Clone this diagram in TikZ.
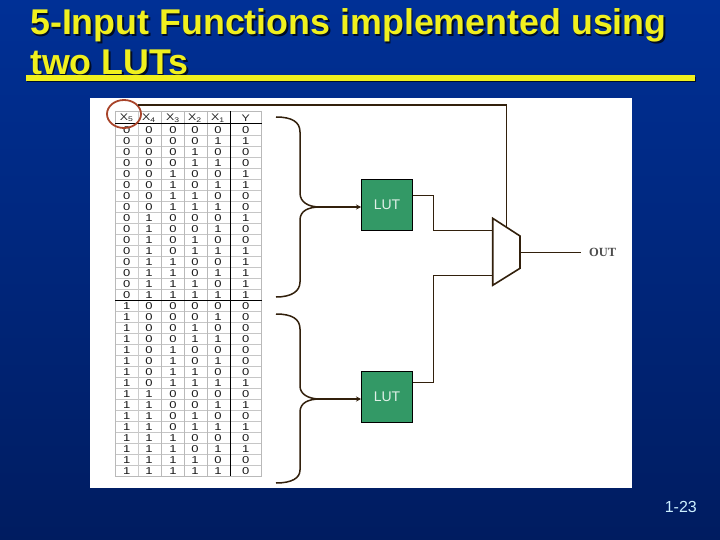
\documentclass[tikz,border=0pt]{standalone}
\usepackage{fontspec}
\setmainfont{Liberation Sans}
\newfontfamily\outfont{Liberation Serif}
\newfontfamily\cellfont[FakeStretch=1.3]{Liberation Sans}
\usetikzlibrary{arrows.meta}
\definecolor{slidetop}{RGB}{0,48,150}
\definecolor{slidebot}{RGB}{0,28,96}
\definecolor{titleyel}{RGB}{240,240,30}
\definecolor{lutgreen}{RGB}{51,153,102}
\definecolor{wirebrown}{RGB}{50,32,12}
\definecolor{circred}{RGB}{168,68,42}
\definecolor{pagecyan}{RGB}{204,240,255}
\newcommand{\slidetitle}{5-Input Functions implemented using\\two LUTs}
\begin{document}
\begin{tikzpicture}[x=1pt,y=-1pt,
  titletxt/.style={font=\fontsize{35.8}{40}\selectfont\bfseries, anchor=north west, align=left, inner sep=0pt},
  cell/.style={font=\cellfont\fontsize{10}{10}\selectfont, text=black!90, inner sep=0pt},
  head/.style={font=\cellfont\fontsize{9.5}{10}\selectfont, text=black!85, inner sep=0pt},
  lutbox/.style={draw=black, line width=1pt, fill=lutgreen, text=white!85!lutgreen, minimum size=51pt, inner sep=0pt, font=\fontsize{14}{14}\selectfont},
  wire/.style={draw=wirebrown, line width=1pt},
  brace/.style={draw=wirebrown, line width=1.5pt},
  feed/.style={draw=wirebrown, line width=1.6pt, -{Stealth[length=5pt,width=5pt]}},
  ]
  \useasboundingbox (0,0) rectangle (720,540);

  %%% slide background and panel %%%
  \shade[top color=slidetop, bottom color=slidebot] (0,0) rectangle (720,540);
  \fill[white] (90,98) rectangle (632,488);

  %%% title with rule %%%
  \node[titletxt, text=black!75!slidetop] (titleshadow) at (31.5,10) {\slidetitle};
  \node[titletxt, text=titleyel] (title) at (30,8.5) {\slidetitle};
  \fill[black!70!slidetop] (27,77) rectangle (696,82);
  \fill[titleyel] (26,75) rectangle (695,81);
  \node[font=\fontsize{16}{16}\selectfont, text=pagecyan, anchor=east, inner sep=0pt] (pageno) at (697,507) {1-23};

  %%% truth table grid %%%
  \foreach \gy in {135,146,157,168,179,190,201,212,223,234,245,256,267,278,289,311,322,333,344,355,366,377,388,399,410,421,432,443,454,465}
    \draw[very thin, gray!45] (115,\gy) -- (262,\gy);
  \foreach \gx in {115,161.7,184,207.3,261.7}
    \draw[line width=0.7pt, gray!55] (\gx,111) -- (\gx,476);
  \draw[line width=1.5pt, gray!40] (138.3,111) -- (138.3,476);
  \draw[line width=0.7pt, gray!55] (115,111) -- (262,111);
  \draw[line width=0.7pt, gray!55] (115,476) -- (262,476);
  \draw[line width=1pt, black] (115,124) -- (262,124);
  \draw[line width=1pt, black] (115,300) -- (262,300);
  \draw[line width=1pt, black] (230.7,111) -- (230.7,476);

  %%% table header %%%
  \foreach \hx/\hn/\hl in {126.7/5/a, 149/4/b, 173/3/c, 195/2/d, 218/1/e}
    \node[head] (h\hl) at (\hx,118) {X\textsubscript{\hn}};
  \node[head] (hy) at (245.7,118) {Y};

  %%% table rows %%%
  \foreach \yv [count=\rw from 0] in {0,1,0,0,1,1,0,0,1,0,0,1,1,1,1,1,0,0,0,0,0,0,0,1,0,1,0,1,0,1,0,0} {
    \pgfmathsetmacro{\ry}{130+11*\rw}
    \foreach \cx/\pw in {126.7/16, 149/8, 173/4, 195/2, 218/1} {
      \pgfmathtruncatemacro{\bitv}{mod(int(\rw/\pw),2)}
      \node[cell] (c\rw-\pw) at (\cx,\ry) {\bitv};
    }
    \node[cell] (y\rw) at (245.7,\ry) {\yv};
  }

  %%% circle round the select input %%%
  \draw[circred, line width=1.8pt] (124,114) ellipse (17 and 14);
  \coordinate (circtop) at (139,106);

  %%% lookup tables %%%
  \node[lutbox] (lutone) at (387,204.8) {LUT};
  \node[lutbox] (luttwo) at (387,396.8) {LUT};

  %%% multiplexer %%%
  \coordinate (muxa) at (492.7,230.3);
  \coordinate (muxb) at (492.7,275.3);
  \coordinate (muxs) at (506.7,228);
  \coordinate (muxo) at (520,252.3);
  \coordinate (outend) at (580.7,252.3);
  \draw[brace, line width=1.6pt, line join=miter] (492.7,218.3) -- (520,236) -- (520,268.3) -- (492.7,285.3) -- cycle;
  \node[font=\outfont\bfseries\fontsize{12.5}{12}\selectfont, text=black!70, anchor=west, inner sep=0pt] (outlab) at (589,252) {OUT};

  %%% input braces %%%
  \coordinate (tipone) at (320,207);
  \coordinate (tiptwo) at (320,399);
  \draw[brace] (276,117) .. controls (292,117) and (300,122) .. (300,132) -- (300,193)
    .. controls (300,202) and (308,207) .. (tipone)
    .. controls (308,207) and (300,211) .. (300,220) -- (300,282)
    .. controls (300,291) and (292,297) .. (276,297);
  \draw[brace] (276,314) .. controls (292,314) and (300,319) .. (300,329) -- (300,386)
    .. controls (300,394) and (308,399) .. (tiptwo)
    .. controls (308,399) and (300,403) .. (300,412) -- (300,470)
    .. controls (300,478) and (292,483) .. (276,483);

  %%% connectors %%%
  \draw[feed] (tipone) -- (tipone -| lutone.west);
  \draw[feed] (tiptwo) -- (tiptwo -| luttwo.west);
  \draw[wire] ([yshift=8.8pt]lutone.east) -- ++(20,0) |- (muxa);
  \draw[wire] ([yshift=14.5pt]luttwo.east) -- ++(20,0) |- (muxb);
  \draw[wire] (muxo) -- (outend);
  \draw[wire, line width=1.5pt] (circtop) -- (139,105) -- (506.7,105) -- (muxs);
\end{tikzpicture}
\end{document}
